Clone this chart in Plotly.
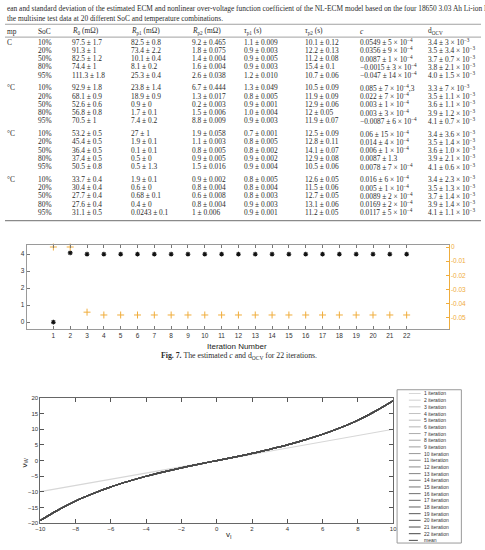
import plotly.graph_objects as go

W, H = 485, 550

# ---------------- table data ----------------
caption_lines = [
    "ean and standard deviation of the estimated ECM and nonlinear over-voltage function coefficient of the NL-ECM model based on the four 18650 3.03 Ah Li-ion NCA",
    "the multisine test data at 20 different SoC and temperature combinations.",
]
header = ["mp", "SoC", "<i>R</i><sub>0</sub> (mΩ)", "<i>R</i><sub>p1</sub> (mΩ)", "<i>R</i><sub>p2</sub> (mΩ)",
          "<i>τ</i><sub>p1</sub> (s)", "<i>τ</i><sub>p2</sub> (s)", "<i>c</i>", "d<sub>OCV</sub>"]
temps = ["C", "°C", "°C", "°C"]
soc = ["10%", "20%", "50%", "80%", "95%"]
R0 = ["97.5 ± 1.7", "91.3 ± 1", "82.5 ± 1.2", "74.4 ± 1", "111.3 ± 1.8",
      "92.9 ± 1.8", "68.1 ± 0.9", "52.6 ± 0.6", "56.8 ± 0.8", "70.5 ± 1",
      "53.2 ± 0.5", "45.4 ± 0.5", "36.4 ± 0.5", "37.4 ± 0.5", "50.5 ± 0.8",
      "33.7 ± 0.4", "30.4 ± 0.4", "27.7 ± 0.4", "27.6 ± 0.4", "31.1 ± 0.5"]
Rp1 = ["82.5 ± 0.8", "73.4 ± 2.2", "10.1 ± 0.4", "8.1 ± 0.2", "25.3 ± 0.4",
       "23.8 ± 1.4", "18.9 ± 0.9", "0.9 ± 0", "1.7 ± 0.1", "7.4 ± 0.2",
       "27 ± 1", "1.9 ± 0.1", "0.1 ± 0.1", "0.5 ± 0", "0.5 ± 1.3",
       "1.9 ± 0.1", "0.6 ± 0", "0.68 ± 0.1", "0.4 ± 0", "0.0243 ± 0.1"]
Rp2 = ["9.2 ± 0.465", "1.8 ± 0.075", "1.4 ± 0.004", "1.6 ± 0.004", "2.6 ± 0.038",
       "6.7 ± 0.444", "1.3 ± 0.017", "0.2 ± 0.003", "1.5 ± 0.006", "8.8 ± 0.009",
       "1.9 ± 0.058", "1.1 ± 0.003", "0.8 ± 0.005", "0.9 ± 0.005", "1.5 ± 0.016",
       "0.9 ± 0.002", "0.8 ± 0.004", "0.6 ± 0.008", "0.8 ± 0.004", "1 ± 0.006"]
tau1 = ["1.1 ± 0.009", "0.9 ± 0.003", "0.9 ± 0.005", "0.9 ± 0.003", "1.2 ± 0.010",
        "1.3 ± 0.049", "0.8 ± 0.005", "0.9 ± 0.001", "1.0 ± 0.004", "0.9 ± 0.003",
        "0.7 ± 0.001", "0.8 ± 0.005", "0.8 ± 0.002", "0.9 ± 0.002", "0.9 ± 0.004",
        "0.8 ± 0.005", "0.8 ± 0.004", "0.8 ± 0.003", "0.9 ± 0.003", "0.9 ± 0.001"]
tau2 = ["10.1 ± 0.12", "12.2 ± 0.13", "11.2 ± 0.08", "15.4 ± 0.1", "10.7 ± 0.06",
        "10.5 ± 0.09", "11.9 ± 0.09", "12.9 ± 0.06", "12 ± 0.05", "11.9 ± 0.07",
        "12.5 ± 0.09", "12.8 ± 0.11", "14.1 ± 0.07", "12.9 ± 0.08", "10.5 ± 0.06",
        "12.6 ± 0.05", "11.5 ± 0.06", "12.7 ± 0.05", "13.1 ± 0.06", "11.2 ± 0.05"]
E4 = " × 10<sup>−4</sup>"
c_str = ["0.0549 ± 5" + E4, "0.0356 ± 9" + E4, "0.0087 ± 1" + E4, "−0.0015 ± 3" + E4, "−0.047 ± 14" + E4,
         "0.085 ± 7 × 10<sup>−4</sup>,3", "0.022 ± 7" + E4, "0.003 ± 1" + E4, "0.003 ± 3" + E4, "−0.0087 ± 6" + E4,
         "0.06 ± 15" + E4, "0.014 ± 4" + E4, "0.006 ± 1" + E4, "0.0087 ± 1.3", "0.0078 ± 7" + E4,
         "0.016 ± 6" + E4, "0.005 ± 1" + E4, "0.0089 ± 2" + E4, "0.0169 ± 2" + E4, "0.0117 ± 5" + E4]
E3 = " × 10<sup>−3</sup>"
d_str = ["3.4 ± 3" + E3, "3.5 ± 3.4" + E3, "3.7 ± 0.7" + E3, "3.8 ± 2.1" + E3, "4.0 ± 1.5" + E3,
         "3.3 ± 7" + E3, "3.5 ± 1.1" + E3, "3.6 ± 1.1" + E3, "3.9 ± 1.2" + E3, "4.1 ± 0.7" + E3,
         "3.4 ± 3.6" + E3, "3.5 ± 1.4" + E3, "3.6 ± 1.0" + E3, "3.9 ± 2.1" + E3, "4.1 ± 0.6" + E3,
         "3.4 ± 2.3" + E3, "3.5 ± 1.3" + E3, "3.7 ± 1.4" + E3, "3.9 ± 1.4" + E3, "4.1 ± 1.1" + E3]

# ---------------- Fig. 7 data ----------------
iterations = [1, 2, 3, 4, 5, 6, 7, 8, 9, 10, 11, 12, 13, 14, 15, 16, 17, 18, 19, 20, 21, 22]
d_ocv_est = [0.0, 4.08, 4.0, 4.0, 4.0, 4.0, 4.0, 4.0, 4.0, 4.0, 4.0,
             4.0, 4.0, 4.0, 4.0, 4.0, 4.0, 4.0, 4.0, 4.0, 4.0, 4.0]
c_est = [0.0, 0.0, -0.046, -0.048, -0.048, -0.048, -0.048, -0.048, -0.048, -0.048, -0.048,
         -0.048, -0.048, -0.048, -0.048, -0.048, -0.048, -0.048, -0.048, -0.048, -0.048, -0.048]
fig7_xticks = list(range(1, 23))
left_ticks = [0, 1, 2, 3, 4]
right_ticks = [0, -0.01, -0.02, -0.03, -0.04, -0.05]
right_ticktext = ["0", "-0.01", "-0.02", "-0.03", "-0.04", "-0.05"]

# ---------------- v_W vs v_I data ----------------
vI = [-10, -9, -8, -7, -6, -5, -4, -3, -2, -1, 0, 1, 2, 3, 4, 5, 6, 7, 8, 9, 10]
vW_nonlinear = [-19.1, -15.8, -12.9, -10.5, -8.4, -6.6, -5.0, -3.6, -2.3, -1.1, 0.0,
                1.1, 2.3, 3.6, 5.0, 6.6, 8.4, 10.5, 12.9, 15.8, 19.1]
vI_linear = [-10, 0, 10]
vW_linear = [-9.9, 0.0, 10.0]
legend_labels = [f"{i} iteration" for i in iterations] + ["mean"]

# ---------------- helpers ----------------
def px(x):
    return x / W

def py(y):
    return 1 - y / H

SERIF = "Liberation Serif"
SANS = "Liberation Sans"
TXT = "#2b2b2b"

fig = go.Figure()
ann = []
shapes = []

# table caption
for i, line in enumerate(caption_lines):
    ann.append(dict(x=px(0), y=py(5.5 + 10 * i), text=line, xanchor="left", yanchor="middle",
                    font=dict(family=SERIF, size=7.4, color=TXT)))
col_x = [0, 31.5, 66.7, 126.5, 188, 241.5, 303.5, 360, 428.5]
head_y = 28.5
for x, t in zip(col_x, header):
    ann.append(dict(x=px(x), y=py(head_y), text=t, xanchor="left", yanchor="middle",
                    font=dict(family=SERIF, size=7.4, color=TXT)))
for yy, wdt in [(21.5, 0.8), (34.5, 0.8), (220, 1.4)]:
    shapes.append(dict(type="line", xref="paper", yref="paper", x0=0, x1=1, y0=py(yy), y1=py(yy),
                       line=dict(color="#8a8a8a", width=wdt)))
for g in range(4):
    for r in range(5):
        k = g * 5 + r
        yrow = 39.6 + 46.2 * g + 8.35 * r
        cells = [temps[g] if r == 0 else "", soc[r], R0[k], Rp1[k], Rp2[k], tau1[k], tau2[k], c_str[k], d_str[k]]
        for x, t in zip(col_x, cells):
            if t:
                ann.append(dict(x=px(x), y=py(yrow), text=t, xanchor="left", yanchor="middle",
                                font=dict(family=SERIF, size=7.4, color=TXT)))

# ---------------- Fig. 7 traces ----------------
ORANGE = "#f0ad3c"
fig.add_trace(go.Scatter(x=iterations, y=d_ocv_est, mode="markers", xaxis="x", yaxis="y",
                         marker=dict(symbol="asterisk-open", size=4, color="#111111",
                                     line=dict(color="#111111", width=1.1)),
                         cliponaxis=False, showlegend=False))
fig.add_trace(go.Scatter(x=iterations, y=c_est, mode="markers", xaxis="x", yaxis="y2",
                         marker=dict(symbol="cross-thin-open", size=5, color=ORANGE,
                                     line=dict(color=ORANGE, width=1)),
                         cliponaxis=False, showlegend=False))

# ---------------- v_W vs v_I traces ----------------
def gray(i, n=22):
    v = int(215 - (215 - 70) * (i - 1) / (n - 1))
    return f"rgb({v},{v},{v})"

for it in iterations:
    if it == 1:
        xs, ys = vI_linear, vW_linear
    else:
        xs, ys = vI, vW_nonlinear
    fig.add_trace(go.Scatter(x=xs, y=ys, mode="lines", xaxis="x3", yaxis="y3",
                             line=dict(color=gray(it), width=1.2, shape="spline", smoothing=1.0),
                             showlegend=False))
fig.add_trace(go.Scatter(x=vI, y=vW_nonlinear, mode="lines", xaxis="x3", yaxis="y3",
                         line=dict(color="#4a4a4a", width=1.1, dash="dashdot", shape="spline"),
                         showlegend=False))

# manual legend
lx0, lx1, ly0, ly1 = 399.5, 465, 391, 546
shapes.append(dict(type="rect", xref="paper", yref="paper", x0=px(lx0), x1=px(lx1), y0=py(ly1), y1=py(ly0),
                   line=dict(color="#9a9a9a", width=1), fillcolor="white"))
for j, lab in enumerate(legend_labels):
    yy = 394.8 + 6.75 * j
    if j < 22:
        col, dash = gray(j + 1), "solid"
    else:
        col, dash = "#4a4a4a", "dashdot"
    shapes.append(dict(type="line", xref="paper", yref="paper", x0=px(411.5), x1=px(423.5), y0=py(yy), y1=py(yy),
                       line=dict(color=col, width=1, dash=dash)))
    ann.append(dict(x=px(424.5), y=py(yy), text=lab, xanchor="left", yanchor="middle",
                    font=dict(family=SANS, size=5, color="#333333")))

# axis titles & caption
ann.append(dict(x=px(236), y=py(347), text="Iteration Number", xanchor="center", yanchor="middle",
                font=dict(family=SANS, size=8, color="#222222")))
ann.append(dict(x=px(238), y=py(357), text="<b>Fig. 7.</b> The estimated <i>c</i> and d<sub>OCV</sub> for 22 iterations.",
                xanchor="center", yanchor="middle", font=dict(family=SERIF, size=7.8, color=TXT)))
ann.append(dict(x=px(20), y=py(465), text="v<sub>W</sub>", textangle=-90, xanchor="center", yanchor="middle",
                font=dict(family=SANS, size=8, color="#222222")))
ann.append(dict(x=px(228), y=py(538), text="v<sub>I</sub>", xanchor="center", yanchor="middle",
                font=dict(family=SANS, size=8, color="#222222")))

for a in ann:
    a.update(xref="paper", yref="paper", showarrow=False)

# middle chart geometry (pixels)
m_l, m_r, m_t, m_b = 22, 452, 245, 329.3
x_at1, x_step = 49.3, 17.14
y0_left, y_unit = 322.7, 17.18
y0_right, y_unit_r = 246.7, 1432.0

b_l, b_r, b_t, b_b = 36, 395.5, 399.3, 526

tickfont = dict(family=SANS, size=6.5, color="#333333")
fig.update_layout(
    width=W, height=H, margin=dict(l=0, r=0, t=0, b=0, pad=0),
    paper_bgcolor="white", plot_bgcolor="rgba(0,0,0,0)",
    annotations=ann, shapes=shapes, showlegend=False,
    xaxis=dict(domain=[px(m_l), px(m_r)], anchor="y",
               range=[1 - (x_at1 - m_l) / x_step, 1 + (m_r - x_at1) / x_step],
               tickvals=fig7_xticks, ticks="inside", ticklen=3, tickcolor="#777777",
               showline=True, linecolor="#9a9a9a", linewidth=1, mirror="ticks",
               showgrid=False, zeroline=False, tickfont=tickfont),
    yaxis=dict(domain=[py(m_b), py(m_t)], anchor="x",
               range=[(y0_left - m_b) / y_unit, (y0_left - m_t) / y_unit],
               tickvals=left_ticks, ticks="inside", ticklen=3, tickcolor="#777777",
               showline=True, linecolor="#9a9a9a", linewidth=1, mirror=False,
               showgrid=False, zeroline=False, tickfont=tickfont),
    yaxis2=dict(overlaying="y", side="right", anchor="x",
                range=[(y0_right - m_b) / y_unit_r, (y0_right - m_t) / y_unit_r],
                tickvals=right_ticks, ticktext=right_ticktext, ticks="inside", ticklen=3, tickcolor=ORANGE,
                showline=True, linecolor=ORANGE, linewidth=1,
                showgrid=False, zeroline=False, tickfont=dict(family=SANS, size=6.5, color=ORANGE)),
    xaxis3=dict(domain=[px(b_l), px(b_r)], anchor="y3", range=[-10, 10],
                tickvals=[-10, -8, -6, -4, -2, 0, 2, 4, 6, 8, 10], ticks="inside", ticklen=4,
                tickcolor="#555555", showline=True, linecolor="#666666", linewidth=1, mirror="ticks",
                showgrid=False, zeroline=False, tickfont=dict(family=SANS, size=6, color="#333333")),
    yaxis3=dict(domain=[py(b_b), py(b_t)], anchor="x3", range=[-20, 20],
                tickvals=[-20, -15, -10, -5, 0, 5, 10, 15, 20], ticks="inside", ticklen=4,
                tickcolor="#555555", showline=True, linecolor="#666666", linewidth=1, mirror="ticks",
                showgrid=False, zeroline=False, tickfont=dict(family=SANS, size=6, color="#333333")),
)

fig.write_html("out.html")
